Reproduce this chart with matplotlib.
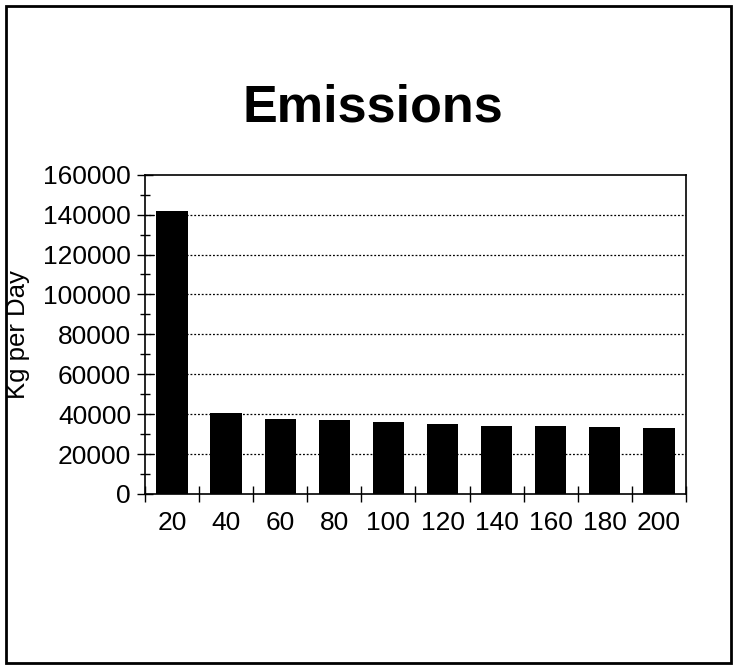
import matplotlib.pyplot as plt
from matplotlib.patches import Rectangle
from matplotlib.ticker import MultipleLocator, FixedLocator, NullFormatter

plt.rcParams['font.family'] = ['Liberation Sans', 'DejaVu Sans']

categories = ['20', '40', '60', '80', '100', '120', '140', '160', '180', '200']
emissions = [141700, 40500, 37800, 37300, 35800, 35000, 34200, 34000, 33300, 33000]

fig = plt.figure(figsize=(7.36, 6.72), dpi=100)
ax = fig.add_axes([0.197, 0.265, 0.735, 0.475])

x = list(range(len(categories)))
ax.bar(x, emissions, width=0.58, color='black', zorder=3)

ax.set_xlim(-0.5, len(categories) - 0.5)
ax.set_ylim(0, 160000)
ax.yaxis.set_major_locator(MultipleLocator(20000))
ax.yaxis.set_minor_locator(MultipleLocator(10000))
for v in range(20000, 160000, 20000):
    ax.axhline(v, color='black', linestyle=(0, (1.5, 1.5)), linewidth=0.9, zorder=1)

ax.set_xticks(x)
ax.set_xticklabels(categories)
ax.tick_params(axis='x', which='major', length=0, pad=12, labelsize=19)
ax.xaxis.set_minor_locator(FixedLocator([i - 0.5 for i in range(len(categories) + 1)]))
ax.xaxis.set_minor_formatter(NullFormatter())
ax.tick_params(axis='x', which='minor', direction='inout', length=12, width=1)
ax.tick_params(axis='y', which='major', direction='inout', length=12, width=1, labelsize=19, pad=4)
ax.tick_params(axis='y', which='minor', direction='inout', length=7, width=1)

for s in ax.spines.values():
    s.set_linewidth(1.2)

ax.set_ylabel('Kg per Day', fontsize=18.5)
ax.yaxis.set_label_coords(-0.213, 0.5)

fig.text(0.507, 0.84, 'Emissions', ha='center', va='center', fontsize=37.5, fontweight='bold')

fig.patches.append(Rectangle((0.008, 0.013), 0.985, 0.978, transform=fig.transFigure,
                             fill=False, edgecolor='black', linewidth=2))

fig.savefig('out.png', dpi=100)
